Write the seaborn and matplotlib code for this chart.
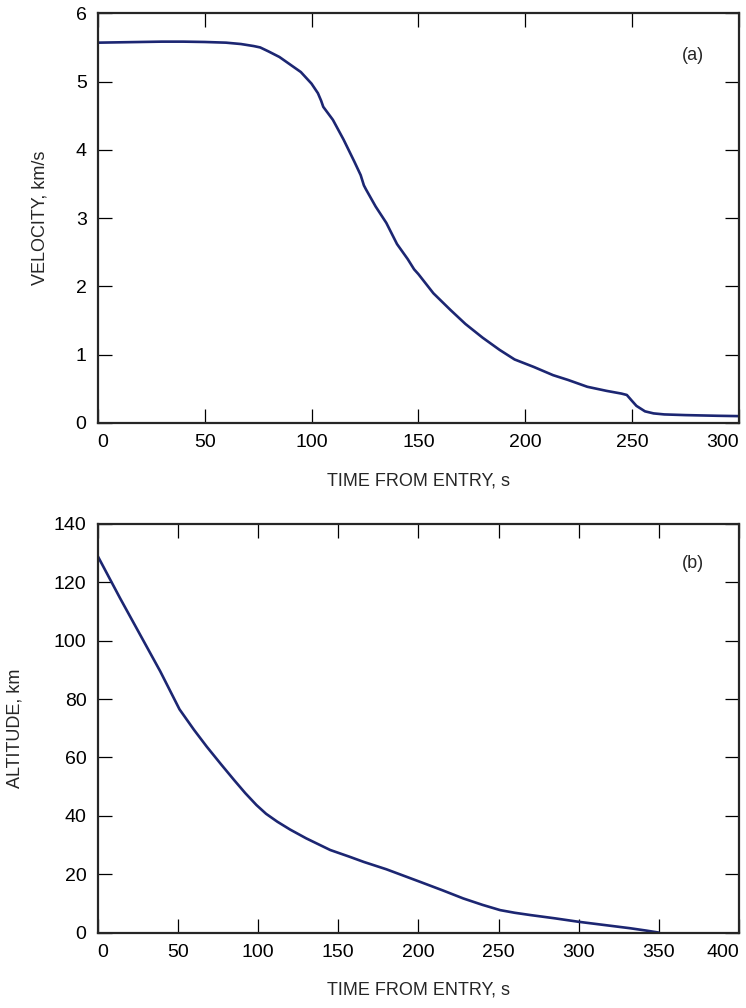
import matplotlib
matplotlib.use("Agg")
import matplotlib.pyplot as plt
import seaborn as sns
import pandas as pd

# (a) velocity vs time from entry
vel_time = [0, 10, 20, 30, 40, 50, 60, 67, 73, 76, 80, 85, 90, 95, 100, 103,
            104.5, 105.5, 110, 115, 120, 123, 124.5, 125.5, 130, 135, 140, 145,
            148, 150, 157, 165, 172, 180, 188, 195, 204, 213, 220, 229, 238,
            245, 247.5, 250, 252, 256, 260, 265, 275, 290, 300]
velocity = [5.57, 5.575, 5.58, 5.585, 5.585, 5.58, 5.57, 5.55, 5.52, 5.50, 5.44,
            5.36, 5.25, 5.14, 4.97, 4.83, 4.72, 4.63, 4.44, 4.15, 3.83, 3.63,
            3.48, 3.42, 3.17, 2.93, 2.62, 2.40, 2.25, 2.18, 1.90, 1.655, 1.45,
            1.25, 1.07, 0.93, 0.82, 0.70, 0.63, 0.53, 0.47, 0.43, 0.41, 0.32,
            0.25, 0.17, 0.14, 0.125, 0.115, 0.105, 0.10]

# (b) altitude vs time from entry
alt_time = [0, 14, 26, 39, 51, 60, 68, 77, 85, 92, 99, 105, 112, 120, 130, 145,
            157, 166, 180, 201, 215, 228, 240, 251, 260, 270, 285, 300, 316,
            332, 342, 350]
altitude = [129, 114.5, 102.5, 89.5, 76.5, 69.5, 63.7, 57.6, 52.3, 47.8, 43.7,
            40.7, 38, 35.3, 32.3, 28.3, 26.0, 24.2, 21.7, 17.4, 14.5, 11.7,
            9.5, 7.7, 6.8, 6.0, 4.9, 3.7, 2.6, 1.5, 0.7, 0]

vel_df = pd.DataFrame({"t": vel_time, "v": velocity})
alt_df = pd.DataFrame({"t": alt_time, "h": altitude})

sns.set_style("ticks")
plt.rcParams['font.family'] = ['Liberation Sans', 'DejaVu Sans']

line_color = "#1c2672"
tick_fs = 14
label_fs = 13

fig = plt.figure(figsize=(7.46, 10.08), dpi=100)
ax1 = fig.add_axes([0.131, 0.5804, 0.8597, 0.4064])
ax2 = fig.add_axes([0.131, 0.0748, 0.8597, 0.4054])

sns.lineplot(data=vel_df, x="t", y="v", ax=ax1, color=line_color, lw=1.9)
sns.lineplot(data=alt_df, x="t", y="h", ax=ax2, color=line_color, lw=1.9)

ax1.set_xlim(0, 300)
ax1.set_ylim(0, 6)
ax1.set_xticks(range(0, 301, 50))
ax1.set_yticks(range(0, 7))
ax2.set_xlim(0, 400)
ax2.set_ylim(0, 140)
ax2.set_xticks(range(0, 401, 50))
ax2.set_yticks(range(0, 141, 20))

for ax in (ax1, ax2):
    ax.tick_params(direction="in", length=10, width=0.9, pad=8,
                   top=True, right=True, labelsize=tick_fs, colors="black")
    for sp in ax.spines.values():
        sp.set_linewidth(1.6)
        sp.set_visible(True)
    ax.set_xlabel("TIME FROM ENTRY, s", fontsize=label_fs)
    ax.xaxis.label.set_va("center")
    ax.yaxis.label.set_va("center")
    xl = ax.get_xticklabels()
    xl[0].set_ha("left")
    xl[-1].set_ha("right")

ax1.set_ylabel("VELOCITY, km/s", fontsize=label_fs, va="center")
ax2.set_ylabel("ALTITUDE, km", fontsize=label_fs, va="center")
ax1.xaxis.set_label_coords(0.5, -0.1416)
ax2.xaxis.set_label_coords(0.5, -0.1405)
ax1.yaxis.set_label_coords(-0.09, 0.5)
ax2.yaxis.set_label_coords(-0.129, 0.5)

ax1.text(0.928, 0.896, "(a)", transform=ax1.transAxes, ha="center", va="center", fontsize=label_fs)
ax2.text(0.928, 0.904, "(b)", transform=ax2.transAxes, ha="center", va="center", fontsize=label_fs)

fig.savefig("out.png", dpi=100)
